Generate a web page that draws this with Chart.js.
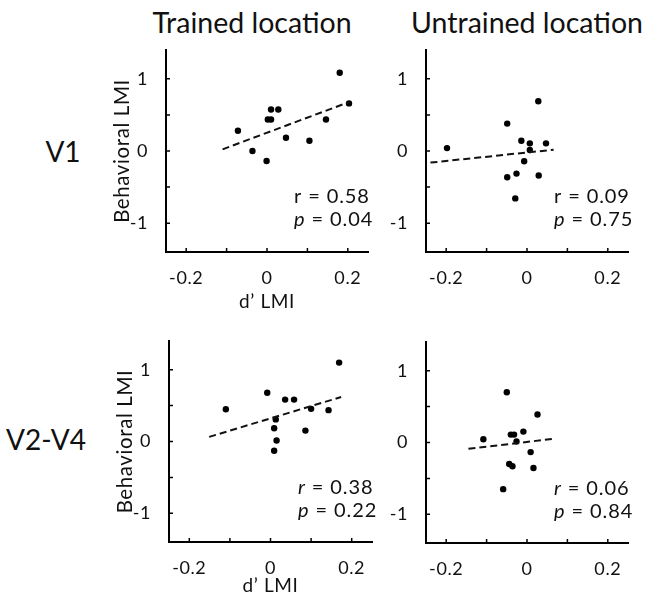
<!DOCTYPE html>
<html>
<head>
<meta charset="utf-8">
<script src="https://cdn.jsdelivr.net/npm/chart.js@4.4.0/dist/chart.umd.min.js"></script>
<style>
  body { margin: 0; background: #fff; font-family: Lato, sans-serif; }
  #wrap { position: relative; width: 645px; height: 604px; overflow: hidden; }
  .lbl { position: absolute; color: #111; white-space: nowrap; transform: translate(-50%, -50%); line-height: 1; }
  .col { font-size: 28.5px; }
  .row { font-size: 28px; }
  canvas { position: absolute; }
</style>
</head>
<body>
<div id="wrap">
  <div class="lbl col" style="left:252px; top:22px">Trained location</div>
  <div class="lbl col" style="left:527px; top:22px">Untrained location</div>
  <div class="lbl row" style="left:63px; top:151px">V1</div>
  <div class="lbl row" style="left:46px; top:439px">V2-V4</div>
  <canvas id="tl" width="275" height="273" style="left:110px; top:40px"></canvas>
  <canvas id="tr" width="255" height="273" style="left:390px; top:40px"></canvas>
  <canvas id="bl" width="275" height="266" style="left:113px; top:331px"></canvas>
  <canvas id="br" width="255" height="266" style="left:390px; top:332px"></canvas>
</div>
<script>
// V1, trained location
const v1TrainedX = [0.180, 0.203, 0.028, 0.010, 0.002, 0.010, 0.146, -0.072, 0.047, 0.105, -0.036, -0.001];
const v1TrainedY = [1.085, 0.660, 0.575, 0.575, 0.437, 0.437, 0.437, 0.280, 0.184, 0.143, 0.000, -0.138];
const v1TrainedFitX = [-0.110, 0.202];
const v1TrainedFitY = [0.023, 0.676];

// V1, untrained location
const v1UntrainedX = [0.028, -0.049, -0.198, -0.014, 0.007, 0.047, 0.007, -0.007, -0.049, -0.026, 0.029, -0.029];
const v1UntrainedY = [0.690, 0.380, 0.040, 0.143, 0.106, 0.106, 0.014, -0.143, -0.363, -0.313, -0.340, -0.657];
const v1UntrainedFitX = [-0.239, 0.066];
const v1UntrainedFitY = [-0.161, 0.018];

// V2-V4, trained location
const v24TrainedX = [0.169, -0.008, 0.036, 0.058, -0.110, 0.100, 0.143, 0.013, 0.009, 0.086, 0.015, 0.009];
const v24TrainedY = [1.099, 0.680, 0.584, 0.584, 0.450, 0.455, 0.437, 0.308, 0.184, 0.152, 0.014, -0.129];
const v24TrainedFitX = [-0.151, 0.174];
const v24TrainedFitY = [0.064, 0.620];

// V2-V4, untrained location
const v24UntrainedX = [-0.050, 0.026, -0.009, -0.040, -0.032, -0.108, -0.026, 0.009, -0.044, -0.036, 0.016, -0.059];
const v24UntrainedY = [0.700, 0.390, 0.152, 0.110, 0.110, 0.046, 0.014, -0.134, -0.300, -0.330, -0.356, -0.650];
const v24UntrainedFitX = [-0.145, 0.064];
const v24UntrainedFitY = [-0.088, 0.050];

const rValues = ["0.58", "0.09", "0.38", "0.06"];
const pValues = ["0.04", "0.75", "0.22", "0.84"];

const xTickLabels = [-0.2, 0, 0.2];
const yTickLabels = [-1, 0, 1];
const xMinorTicks = [-0.2, -0.1, 0, 0.1, 0.2];
const yMinorTicks = [-1, -0.5, 0, 0.5, 1];

const FONT = "Lato, sans-serif";
const INK = "#111";

// slightly looser lettering, closer to the original typeface
const spacing = {
  id: "spacing",
  beforeDraw(chart) { chart.ctx.letterSpacing = "0.6px"; }
};

// little inward tick marks on both axes
const innerTicks = {
  id: "innerTicks",
  afterDraw(chart) {
    const { ctx, chartArea, scales } = chart;
    ctx.save();
    ctx.strokeStyle = "#000";
    ctx.lineWidth = 1.5;
    ctx.beginPath();
    xMinorTicks.forEach(v => {
      const px = scales.x.getPixelForValue(v);
      ctx.moveTo(px, chartArea.bottom);
      ctx.lineTo(px, chartArea.bottom - 4);
    });
    yMinorTicks.forEach(v => {
      const py = scales.y.getPixelForValue(v);
      ctx.moveTo(chartArea.left, py);
      ctx.lineTo(chartArea.left + 4, py);
    });
    ctx.stroke();
    ctx.restore();
  }
};

// r / p annotation in the lower right corner
const statsText = {
  id: "statsText",
  afterDraw(chart, args, opts) {
    const { ctx, chartArea } = chart;
    const x0 = chartArea.right - 74;
    const lines = [
      { sym: "r", italic: opts.rItalic, rest: " = " + opts.r, y: chartArea.top + 147 },
      { sym: "p", italic: true, rest: " = " + opts.p, y: chartArea.top + 170 }
    ];
    ctx.save();
    ctx.fillStyle = INK;
    ctx.textBaseline = "middle";
    ctx.textAlign = "left";
    ctx.letterSpacing = "0.9px";
    lines.forEach(l => {
      ctx.font = (l.italic ? "italic " : "") + "20px " + FONT;
      ctx.fillText(l.sym, x0, l.y);
      const w = ctx.measureText(l.sym).width;
      ctx.font = "20px " + FONT;
      ctx.fillText(l.rest, x0 + w, l.y);
    });
    ctx.restore();
  }
};

function makePanel(id, xs, ys, fitX, fitY, opt) {
  const points = xs.map((x, i) => ({ x: x, y: ys[i] }));
  const fit = fitX.map((x, i) => ({ x: x, y: fitY[i] }));
  new Chart(document.getElementById(id), {
    type: "scatter",
    data: {
      datasets: [
        {
          data: fit,
          showLine: true,
          borderColor: "#111",
          borderWidth: 2,
          borderDash: [7, 4],
          pointRadius: 0
        },
        {
          data: points,
          backgroundColor: "#000",
          borderColor: "#000",
          pointRadius: 3.2,
          pointBorderWidth: 0
        }
      ]
    },
    options: {
      responsive: false,
      animation: false,
      layout: { padding: { top: 10, right: opt.padRight, left: 0, bottom: 0 } },
      plugins: {
        legend: { display: false },
        tooltip: { enabled: false },
        statsText: { r: opt.r, p: opt.p, rItalic: opt.rItalic }
      },
      scales: {
        x: {
          type: "linear",
          min: -0.25,
          max: 0.25,
          afterBuildTicks: s => { s.ticks = xTickLabels.map(v => ({ value: v })); },
          afterFit: s => { s.height = opt.xHeight; },
          grid: { display: false },
          border: { display: true, color: "#000", width: 2 },
          ticks: { color: INK, font: { family: FONT, size: 18 }, padding: 7, maxRotation: 0 },
          title: {
            display: opt.titles,
            text: "d\u2019 LMI",
            color: INK,
            font: { family: FONT, size: 19 },
            padding: { top: 0, bottom: 0 }
          }
        },
        y: {
          type: "linear",
          min: -1.4,
          max: 1.4,
          afterBuildTicks: s => { s.ticks = yTickLabels.map(v => ({ value: v })); },
          afterFit: s => {
            s.width = opt.yWidth;
            s.paddingTop = 0;
            s.paddingBottom = 0;
          },
          grid: { display: false },
          border: { display: true, color: "#000", width: 2 },
          ticks: { color: INK, font: { family: FONT, size: 18 }, padding: 10 },
          title: {
            display: opt.titles,
            text: "Behavioral LMI",
            color: INK,
            font: { family: FONT, size: 20.5 },
            padding: { top: 0, bottom: 0 }
          }
        }
      }
    },
    plugins: [spacing, innerTicks, statsText]
  });
}

makePanel("tl", v1TrainedX, v1TrainedY, v1TrainedFitX, v1TrainedFitY,
  { titles: true, yWidth: 56, xHeight: 61, padRight: 17, r: rValues[0], p: pValues[0], rItalic: false });
makePanel("tr", v1UntrainedX, v1UntrainedY, v1UntrainedFitX, v1UntrainedFitY,
  { titles: false, yWidth: 36, xHeight: 61, padRight: 17, r: rValues[1], p: pValues[1], rItalic: false });
makePanel("bl", v24TrainedX, v24TrainedY, v24TrainedFitX, v24TrainedFitY,
  { titles: true, yWidth: 56, xHeight: 55, padRight: 16, r: rValues[2], p: pValues[2], rItalic: true });
makePanel("br", v24UntrainedX, v24UntrainedY, v24UntrainedFitX, v24UntrainedFitY,
  { titles: false, yWidth: 36, xHeight: 55, padRight: 17, r: rValues[3], p: pValues[3], rItalic: true });
</script>
</body>
</html>
